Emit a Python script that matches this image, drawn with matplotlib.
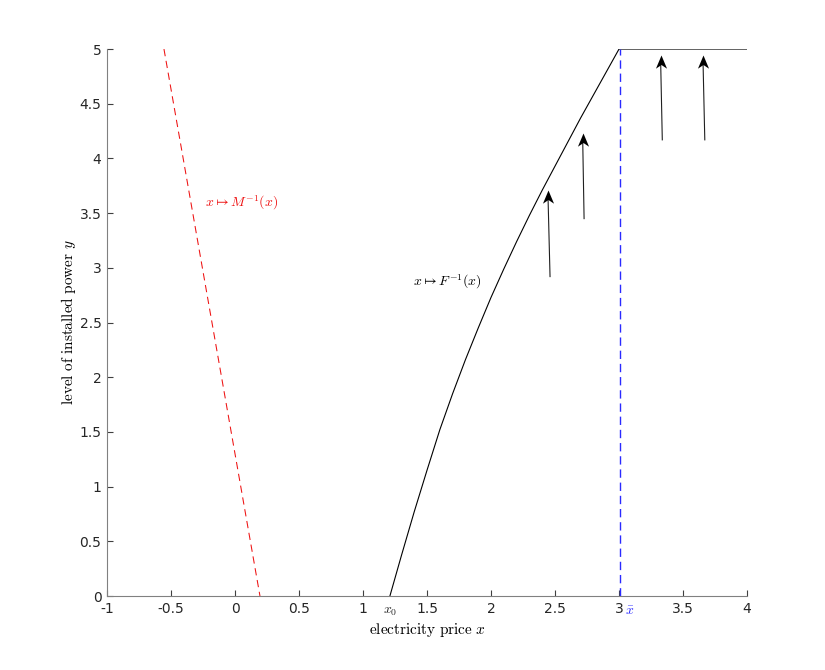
import matplotlib
matplotlib.use("Agg")
import matplotlib.pyplot as plt
import numpy as np
from matplotlib.path import Path

plt.rcParams['mathtext.fontset'] = 'cm'

# Red dashed line x -> M^{-1}(x)
m_x = [-0.555, 0.195]
m_y = [5.0, 0.0]

# Black curve x -> F^{-1}(x) then flat at 5
f_x = [1.21, 1.30, 1.40, 1.50, 1.60, 1.70, 1.80, 1.90, 2.00, 2.10, 2.20,
       2.30, 2.40, 2.50, 2.60, 2.70, 2.80, 2.90, 3.00, 4.00]
f_y = [0.00, 0.37, 0.77, 1.15, 1.52, 1.85, 2.16, 2.45, 2.73, 2.99, 3.24,
       3.48, 3.71, 3.93, 4.15, 4.37, 4.58, 4.79, 5.00, 5.00]

# vertical dashed at x-bar
xbar = 3.0
xbar_y = [0.0, 5.0]
x0 = 1.21

# arrows (tail -> tip)
arr_x0 = [2.461, 2.727, 3.338, 3.670]
arr_y0 = [2.92, 3.45, 4.17, 4.17]
arr_x1 = [2.445, 2.716, 3.325, 3.656]
arr_y1 = [3.71, 4.235, 4.945, 4.945]

xticks = [-1, -0.5, 0, 0.5, 1, 1.5, 2, 2.5, 3, 3.5, 4]
xticklabels = ['-1', '-0.5', '0', '0.5', '1', '1.5', '2', '2.5', '3', '3.5', '4']
yticks = [0, 0.5, 1, 1.5, 2, 2.5, 3, 3.5, 4, 4.5, 5]
yticklabels = ['0', '0.5', '1', '1.5', '2', '2.5', '3', '3.5', '4', '4.5', '5']

fig = plt.figure(figsize=(8.25, 6.7), dpi=100)
ax = fig.add_axes([0.1297, 0.1104, 0.7758, 0.8164])

ax.plot(m_x, m_y, color='#ee1111', lw=0.75, ls=(0, (7, 4.5)))
ax.plot(f_x, f_y, color='black', lw=0.8, solid_joinstyle='round')
ax.plot([xbar + 0.004, xbar + 0.004], xbar_y, color='#2a2aff', lw=1.0,
        ls=(0, (6, 3.5)), zorder=3)

head = Path([(0, 0), (0.42, -1), (0, -0.72), (-0.42, -1), (0, 0)],
            [Path.MOVETO, Path.LINETO, Path.LINETO, Path.LINETO, Path.CLOSEPOLY])
for xa, ya, xb, yb in zip(arr_x0, arr_y0, arr_x1, arr_y1):
    ax.plot([xa, xb], [ya, yb - 0.05], color='#202020', lw=0.8)
    ax.plot([xb], [yb], marker=head, ms=19, color='black', mec='black', mew=0)

ax.set_xlim(-1, 4)
ax.set_ylim(0, 5)
ax.set_xticks(xticks)
ax.set_xticklabels(xticklabels)
ax.set_yticks(yticks)
ax.set_yticklabels(yticklabels)
for s in ['top', 'right']:
    ax.spines[s].set_visible(False)
for s in ['left', 'bottom']:
    ax.spines[s].set_color('#808080')
    ax.spines[s].set_linewidth(0.8)
ax.tick_params(direction='in', length=4, width=0.8, color='#404040',
               labelsize=10, labelcolor='#262626', pad=4)

ax.text(x0, -0.07, r'$x_0$', ha='center', va='top', fontsize=10, color='#262626')
ax.text(xbar + 0.085, -0.07, r'$\bar{x}$', ha='center', va='top', fontsize=10, color='#2a2aff')

ax.text(-0.234, 3.59, r'$x \mapsto M^{-1}(x)$', color='#ee1111', fontsize=10, va='center', ha='left')
ax.text(1.39, 2.87, r'$x \mapsto F^{-1}(x)$', color='black', fontsize=10, va='center', ha='left')

ax.set_xlabel(r'$\mathrm{electricity\ price}\ x$', fontsize=11, labelpad=4)
ax.set_ylabel(r'$\mathrm{level\ of\ installed\ power}\ y$', fontsize=11, labelpad=1)

fig.savefig('out.png', dpi=100)
